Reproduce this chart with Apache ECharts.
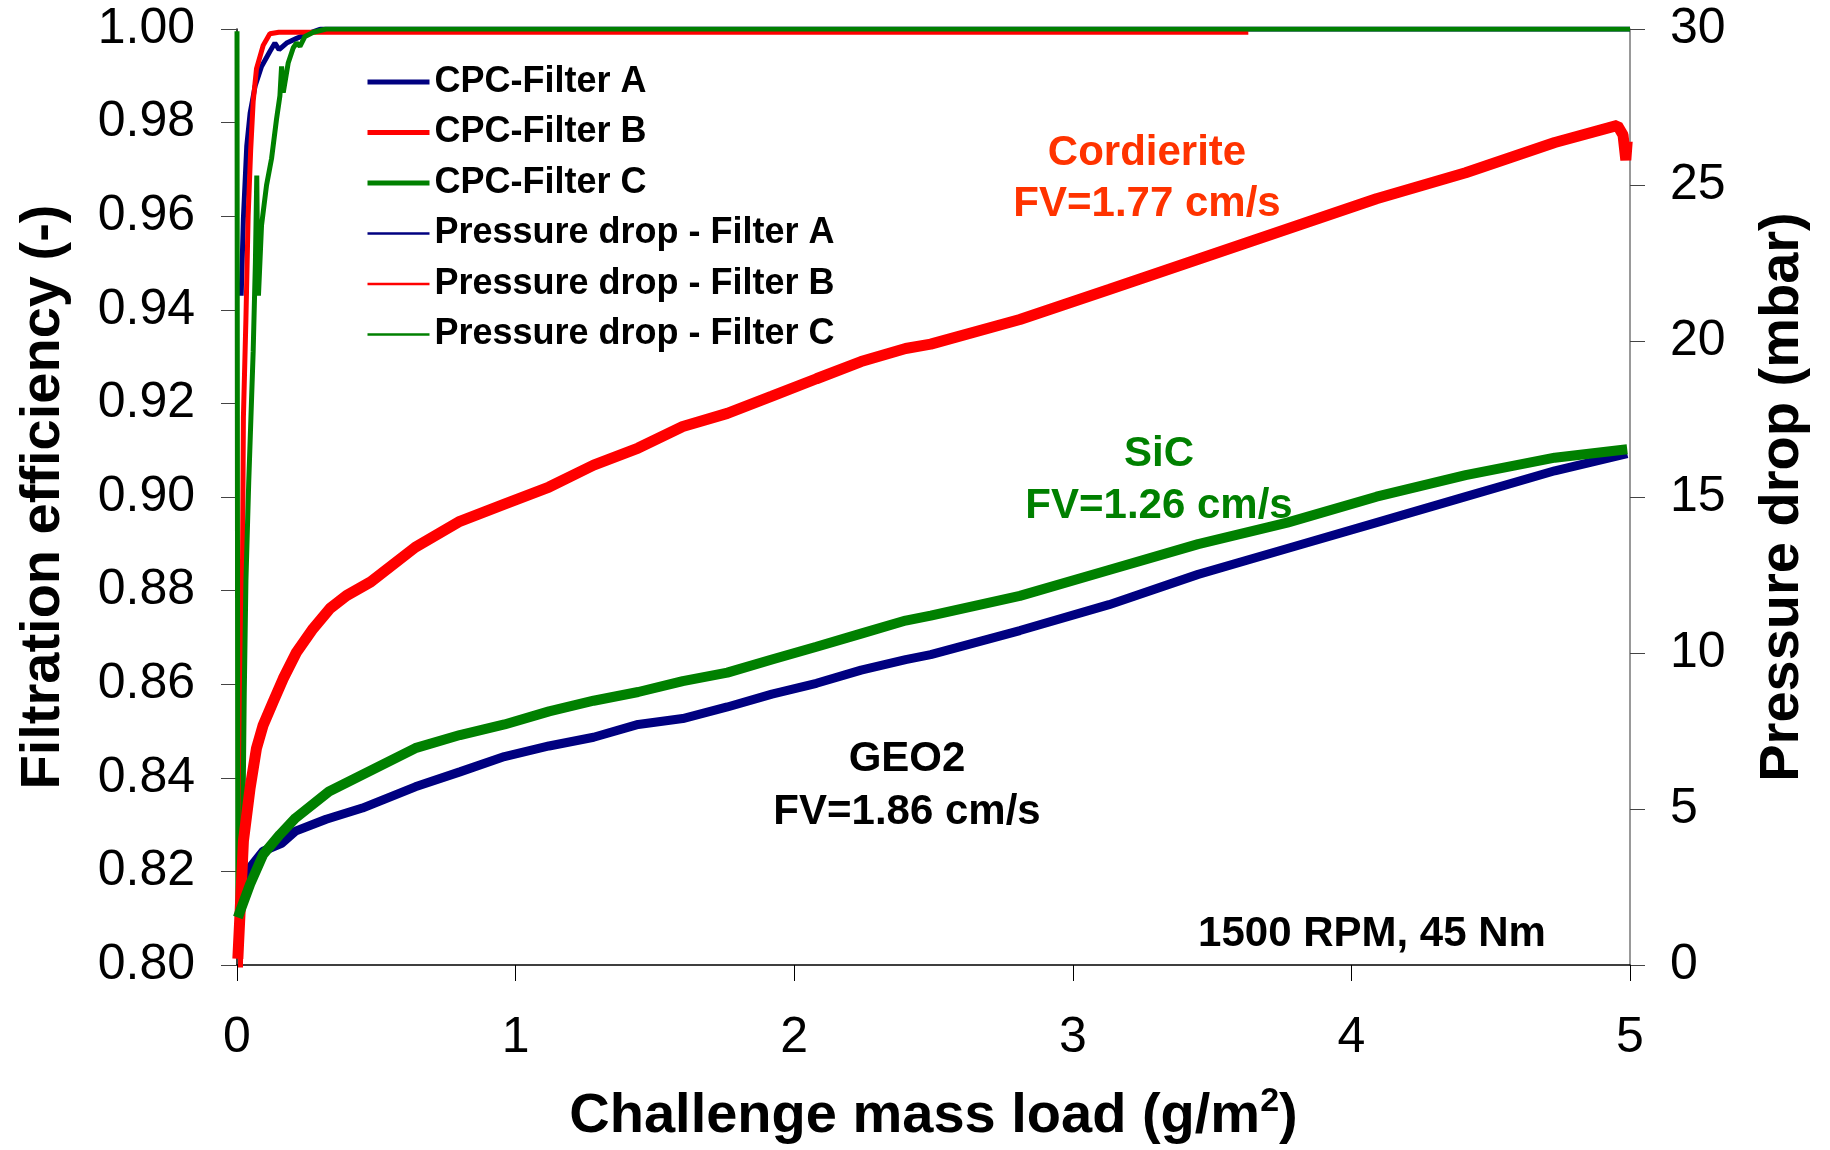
<!DOCTYPE html>
<html><head><meta charset="utf-8">
<script src="https://cdn.jsdelivr.net/npm/echarts@6/dist/echarts.min.js"></script>
<style>html,body{margin:0;padding:0;background:#fff}#c{width:1830px;height:1150px}</style>
</head><body><div id="c"></div>
<script>
// ---- data ----
const xTicks = [0, 1, 2, 3, 4, 5];
const effTicks = [0.80, 0.82, 0.84, 0.86, 0.88, 0.90, 0.92, 0.94, 0.96, 0.98, 1.00];
const dpTicks = [0, 5, 10, 15, 20, 25, 30];
const seriesNames = ['CPC-Filter A', 'CPC-Filter B', 'CPC-Filter C',
  'Pressure drop - Filter A', 'Pressure drop - Filter B', 'Pressure drop - Filter C'];

// Filtration efficiency (-) vs challenge mass load (g/m2)
const cpcA = [[0.015,0.943],[0.023,0.9596],[0.035,0.975],[0.047,0.982],[0.065,0.9878],[0.088,0.992],
  [0.118,0.9952],[0.136,0.997],[0.151,0.9956],[0.178,0.997],[0.214,0.998],[0.262,0.9992],[0.30,1.0],[5.0,1.0]];
const cpcB = [[0.006,0.70],[0.016,0.85],[0.023,0.917],[0.032,0.938],[0.04,0.96],[0.049,0.974],[0.058,0.9845],
  [0.07,0.9915],[0.094,0.9965],[0.118,0.999],[0.15,0.9993],[3.63,0.9993]];
const cpcC = [[0,0.9995],[0.003,0.81],[0.012,0.806],[0.018,0.815],[0.022,0.835],[0.026,0.858],[0.032,0.882],
  [0.042,0.903],[0.05,0.917],[0.058,0.931],[0.066,0.950],[0.071,0.9687],[0.074,0.95],[0.077,0.943],[0.088,0.958],
  [0.106,0.9666],[0.124,0.9723],[0.142,0.9808],[0.154,0.9857],[0.16,0.992],[0.166,0.9864],[0.184,0.9928],
  [0.202,0.996],[0.214,0.997],[0.226,0.9963],[0.244,0.9984],[0.274,0.9993],[0.32,1.0],[5.0,1.0]];

// Pressure drop (mbar)
const dpA = [[0.011,2.05],[0.047,3.12],[0.094,3.65],[0.16,3.9],[0.21,4.29],[0.32,4.67],[0.45,5.03],[0.64,5.71],
  [0.80,6.19],[0.96,6.68],[1.12,7.02],[1.28,7.30],[1.44,7.71],[1.60,7.9],[1.76,8.27],[1.92,8.68],[2.08,9.03],
  [2.24,9.45],[2.40,9.79],[2.49,9.95],[2.81,10.72],[3.13,11.55],[3.45,12.52],[3.77,13.35],[4.09,14.18],
  [4.41,15.01],[4.73,15.84],[4.99,16.39]];
const dpB = [[0.003,0.2],[0.01,1.5],[0.018,3.0],[0.023,3.97],[0.047,5.67],[0.07,6.95],[0.094,7.69],[0.13,8.44],
  [0.166,9.18],[0.214,10.03],[0.273,10.78],[0.333,11.42],[0.393,11.84],[0.48,12.28],[0.64,13.39],[0.80,14.22],
  [0.96,14.77],[1.12,15.32],[1.28,16.02],[1.44,16.57],[1.60,17.26],[1.76,17.68],[1.92,18.23],[2.08,18.79],
  [2.24,19.34],[2.40,19.76],[2.49,19.9],[2.81,20.69],[3.13,21.65],[3.45,22.62],[3.77,23.59],[4.09,24.56],
  [4.41,25.39],[4.73,26.36],[4.955,26.91],[4.975,26.6],[4.985,25.8],[4.99,26.4]];
const dpC = [[0.003,1.52],[0.047,2.59],[0.094,3.54],[0.154,4.18],[0.21,4.71],[0.33,5.56],[0.45,6.1],[0.64,6.95],
  [0.80,7.37],[0.96,7.71],[1.12,8.13],[1.28,8.47],[1.44,8.75],[1.60,9.10],[1.76,9.37],[1.92,9.79],[2.08,10.20],
  [2.24,10.62],[2.40,11.04],[2.49,11.2],[2.81,11.83],[3.13,12.66],[3.45,13.49],[3.77,14.18],[4.09,15.01],
  [4.41,15.70],[4.73,16.26],[4.99,16.53]];

const annotations = [
  {text: 'Cordierite', color: '#FF3300'}, {text: 'FV=1.77 cm/s', color: '#FF3300'},
  {text: 'SiC', color: '#008000'}, {text: 'FV=1.26 cm/s', color: '#008000'},
  {text: 'GEO2', color: '#000'}, {text: 'FV=1.86 cm/s', color: '#000'},
  {text: '1500 RPM, 45 Nm', color: '#000'}
];
// ---- styling ----
const FONT = 'Liberation Sans, Arial, Helvetica, sans-serif';
const NAVY = '#000080', RED = '#FF0000', GREEN = '#008000';
const annPos = [[1147,153],[1147,204],[1159,454],[1159,506],[907,759],[907,812],[1372,934]];

const chart = echarts.init(document.getElementById('c'));
const mk = (name, data, color, width, yIdx) => ({
  name, type: 'line', data, yAxisIndex: yIdx, symbol: 'none', showSymbol: false,
  lineStyle: {color, width}, itemStyle: {color}, animation: false
});
chart.setOption({
  backgroundColor: '#fff',
  animation: false,
  grid: {left: 237, right: 200, top: 29, bottom: 178},
  legend: {
    orient: 'vertical', left: 360, top: 57, itemWidth: 62, itemHeight: 20, itemGap: 10.5,
    itemStyle: {opacity: 0},
    textStyle: {fontFamily: FONT, fontSize: 36, fontWeight: 'bold', color: '#000', lineHeight: 40},
    data: seriesNames.map((n, i) => ({name: n, itemStyle: {opacity: 0}, lineStyle: {width: i < 3 ? 5 : 2.5}}))
  },
  xAxis: {
    type: 'value', min: xTicks[0], max: xTicks[xTicks.length - 1], interval: 1,
    name: '{a|Challenge mass load (g/m}{s|2}{a|)}', nameLocation: 'middle', nameGap: 120,
    nameTextStyle: {rich: {
      a: {fontFamily: FONT, fontSize: 56, fontWeight: 'bold', color: '#000', lineHeight: 64},
      s: {fontFamily: FONT, fontSize: 34, fontWeight: 'bold', color: '#000', verticalAlign: 'top', lineHeight: 30}
    }},
    axisLine: {onZero: false, lineStyle: {color: '#000', width: 1.5}},
    axisTick: {length: 16, lineStyle: {color: '#000', width: 1}},
    axisLabel: {fontFamily: FONT, fontSize: 50, color: '#000', margin: 48},
    splitLine: {show: false}
  },
  yAxis: [{
    type: 'value', min: effTicks[0], max: effTicks[effTicks.length - 1], interval: 0.02,
    name: 'Filtration efficiency (-)', nameLocation: 'middle', nameRotate: 90, nameGap: 163,
    nameTextStyle: {fontFamily: FONT, fontSize: 56, fontWeight: 'bold', color: '#000', lineHeight: 60},
    axisLine: {show: true, lineStyle: {color: '#000', width: 1.5}},
    axisTick: {show: true, length: 16, lineStyle: {color: '#444'}},
    axisLabel: {fontFamily: FONT, fontSize: 50, color: '#000', margin: 42, formatter: v => v.toFixed(2)},
    splitLine: {show: false}
  }, {
    type: 'value', position: 'right', min: dpTicks[0], max: dpTicks[dpTicks.length - 1], interval: 5,
    name: 'Pressure drop (mbar)', nameLocation: 'middle', nameRotate: 90, nameGap: 123,
    nameTextStyle: {fontFamily: FONT, fontSize: 56, fontWeight: 'bold', color: '#000', lineHeight: 60},
    axisLine: {show: true, lineStyle: {color: '#777', width: 1.5}},
    axisTick: {show: true, length: 15, lineStyle: {color: '#444'}},
    axisLabel: {fontFamily: FONT, fontSize: 50, color: '#000', margin: 40},
    splitLine: {show: false}
  }],
  series: [
    mk(seriesNames[0], cpcA, NAVY, 5, 0),
    mk(seriesNames[1], cpcB, RED, 5, 0),
    mk(seriesNames[2], cpcC, GREEN, 5, 0),
    mk(seriesNames[3], dpA, NAVY, 9, 1),
    mk(seriesNames[4], dpB, RED, 11, 1),
    mk(seriesNames[5], dpC, GREEN, 10, 1)
  ],
  graphic: annotations.map((a, i) => ({
    type: 'text', x: annPos[i][0], y: annPos[i][1], silent: true,
    style: {text: a.text, fill: a.color, font: 'bold 42px ' + FONT, align: 'center', verticalAlign: 'middle'}
  }))
});
</script></body></html>
